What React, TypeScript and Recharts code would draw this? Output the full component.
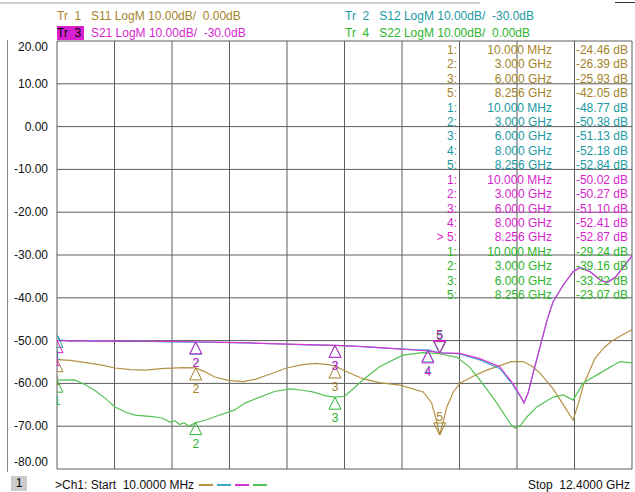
import React from 'react';
import { ComposedChart, Line, Scatter, XAxis, YAxis, CartesianGrid } from 'recharts';

// sweep / scale (active trace Tr 3 owns the left axis)
const startGHz = 0.01;
const stopGHz = 12.4;
const activeRef = -30;
const yTicks = [20, 10, 0, -10, -20, -30, -40, -50, -60, -70, -80];

// traces, [GHz, dB] as measured (before the reference offset)
const s11Trace: [number, number][] = [
  [0.01, -24.46], [0.3, -24.6], [0.67, -25.2], [1.0, -25.8], [1.26, -26.4], [1.6, -26.8],
  [1.9, -26.9], [2.33, -26.5], [2.76, -26.3], [3.0, -26.39], [3.2, -27.3], [3.41, -28.5],
  [3.7, -29.3], [4.02, -29.6], [4.3, -29.0], [4.53, -28.1], [4.96, -26.4], [5.3, -25.6],
  [5.6, -25.3], [5.85, -25.6], [6.0, -25.93], [6.3, -27.5], [6.6, -28.9], [6.96, -29.8],
  [7.4, -30.4], [7.9, -32.0], [8.08, -34.5], [8.17, -38.0], [8.256, -42.05], [8.33, -39.0],
  [8.41, -35.5], [8.55, -32.0], [8.7, -29.9], [9.0, -28.2], [9.27, -26.9], [9.8, -24.9],
  [10.05, -24.9], [10.25, -26.0], [10.42, -27.6], [10.7, -31.3], [10.95, -35.5], [11.13, -38.6],
  [11.25, -34.5], [11.35, -30.5], [11.6, -24.2], [11.8, -21.6], [11.95, -20.2], [12.14, -19.0],
  [12.4, -17.4],
];
const s12Trace: [number, number][] = [
  [0.01, -48.77], [0.08, -49.8], [0.3, -50.1], [0.8, -50.0], [1.3, -50.2], [1.8, -50.1],
  [2.4, -50.3], [3.0, -50.38], [3.6, -50.4], [4.2, -50.6], [4.8, -50.8], [5.4, -51.0],
  [6.0, -51.13], [6.6, -51.4], [7.2, -51.8], [7.7, -52.1], [8.0, -52.18], [8.256, -52.84],
  [8.69, -53.1], [9.12, -54.5], [9.55, -56.5], [9.83, -60.3], [10.02, -63.5], [10.07, -64.5],
  [10.16, -62.3], [10.27, -57.6], [10.42, -51.4], [10.57, -45.2], [10.7, -40.9], [10.92, -37.0],
  [11.13, -33.9], [11.28, -32.9], [11.5, -33.9], [11.71, -35.8], [11.86, -36.5], [12.05, -35.1],
  [12.27, -32.0], [12.4, -30.2],
];
const s21Trace: [number, number][] = [
  [0.01, -50.02], [0.3, -50.05], [0.8, -50.1], [1.3, -50.1], [1.8, -50.15], [2.4, -50.2],
  [3.0, -50.27], [3.6, -50.4], [4.2, -50.55], [4.8, -50.75], [5.4, -50.95], [6.0, -51.1],
  [6.6, -51.4], [7.2, -51.8], [7.7, -52.2], [8.0, -52.41], [8.256, -52.87], [8.69, -53.0],
  [9.12, -54.2], [9.55, -56.1], [9.83, -60.0], [10.02, -63.4], [10.07, -64.6], [10.16, -62.3],
  [10.27, -57.6], [10.42, -51.4], [10.57, -45.2], [10.7, -40.9], [10.92, -37.0], [11.13, -33.9],
  [11.28, -32.9], [11.5, -33.9], [11.71, -35.8], [11.86, -36.5], [12.05, -35.1], [12.27, -32.0],
  [12.4, -30.2],
];
const s22Trace: [number, number][] = [
  [0.01, -29.24], [0.39, -29.2], [0.6, -30.2], [0.82, -31.6], [1.05, -33.5], [1.26, -35.5],
  [1.5, -36.8], [1.69, -37.4], [2.12, -37.8], [2.3, -38.2], [2.45, -39.1], [2.55, -38.7],
  [2.65, -39.6], [2.75, -39.2], [2.85, -40.0], [3.0, -39.16], [3.2, -38.6], [3.41, -37.8],
  [3.84, -36.2], [4.06, -34.6], [4.38, -33.2], [4.7, -31.9], [5.03, -31.3], [5.3, -31.6],
  [5.52, -32.0], [5.8, -32.9], [6.0, -33.22], [6.21, -33.0], [6.4, -31.2], [6.6, -29.2],
  [6.96, -26.1], [7.46, -23.4], [7.89, -22.8], [8.256, -23.07], [8.63, -23.9], [8.9, -26.2],
  [9.12, -29.2], [9.3, -31.8], [9.49, -34.6], [9.77, -39.3], [9.88, -40.5], [10.0, -39.8],
  [10.13, -37.9], [10.35, -35.5], [10.7, -33.2], [10.92, -32.7], [11.13, -33.9], [11.35, -29.9],
  [11.71, -27.6], [12.14, -24.9], [12.4, -25.2],
];

// markers: id, GHz, dB
const s11Markers = [
  { id: 1, f: 0.01, v: -24.46 }, { id: 2, f: 3.0, v: -26.39 },
  { id: 3, f: 6.0, v: -25.93 }, { id: 5, f: 8.256, v: -42.05 },
];
const s12Markers = [
  { id: 1, f: 0.01, v: -48.77 }, { id: 2, f: 3.0, v: -50.38 }, { id: 3, f: 6.0, v: -51.13 },
  { id: 4, f: 8.0, v: -52.18 }, { id: 5, f: 8.256, v: -52.84 },
];
const s21Markers = [
  { id: 1, f: 0.01, v: -50.02 }, { id: 2, f: 3.0, v: -50.27 }, { id: 3, f: 6.0, v: -51.1 },
  { id: 4, f: 8.0, v: -52.41 }, { id: 5, f: 8.256, v: -52.87 },
];
const s22Markers = [
  { id: 1, f: 0.01, v: -29.24 }, { id: 2, f: 3.0, v: -39.16 },
  { id: 3, f: 6.0, v: -33.22 }, { id: 5, f: 8.256, v: -23.07 },
];

const FONT = 'Arial, "Liberation Sans", sans-serif';

const traces = [
  { tr: 1, param: 'S11', ref: 0, text: '#a3832a', line: '#b39145', data: s11Trace, markers: s11Markers },
  { tr: 2, param: 'S12', ref: -30, text: '#1a9aa2', line: '#3aa6c8', data: s12Trace, markers: s12Markers },
  { tr: 3, param: 'S21', ref: -30, text: '#d81fd0', line: '#d636d2', data: s21Trace, markers: s21Markers },
  { tr: 4, param: 'S22', ref: 0, text: '#2cb42c', line: '#55c255', data: s22Trace, markers: s22Markers },
];
const activeTr = 3;
const activeMarker = 5;
const drawOrder = [1, 4, 2, 3];

const fmtRef = (r: number) => (r === 0 ? '0.00dB' : `${r.toFixed(1)}dB`);
const fmtFreq = (f: number) => (f < 1 ? `${(f * 1000).toFixed(3)} MHz` : `${f.toFixed(3)} GHz`);
const gridTicks = Array.from({ length: 11 }, (_, k) => startGHz + (k * (stopGHz - startGHz)) / 10);

const MarkerShape = (props: any) => {
  const { cx, cy, payload } = props;
  const c = payload.color;
  if (payload.down) {
    return (
      <g>
        <polygon points={`${cx - 6},${cy - 12} ${cx + 6},${cy - 12} ${cx},${cy}`} fill="none" stroke={c} strokeWidth={1} />
        {payload.active && <line x1={cx - 6} x2={cx + 6} y1={cy - 12} y2={cy - 12} stroke={c} strokeWidth={2} />}
        <text x={cx} y={cy - 14} textAnchor="middle" fontSize={12} fontFamily={FONT} fill={c}>{payload.id}</text>
      </g>
    );
  }
  return (
    <g>
      <polygon points={`${cx},${cy} ${cx - 6},${cy + 12} ${cx + 6},${cy + 12}`} fill="none" stroke={c} strokeWidth={1} />
      <text x={cx} y={cy + 25} textAnchor="middle" fontSize={12} fontFamily={FONT} fill={c}>{payload.id}</text>
    </g>
  );
};

const RefArrow = (props: any) => {
  const { cx, cy, payload } = props;
  const d = payload.side === 'left' ? -1 : 1;
  return (
    <polygon points={`${cx},${cy} ${cx + d * 5},${cy - 5} ${cx + d * 5},${cy + 5}`} fill={payload.color} />
  );
};

const YTick = (props: any) => {
  const { x, y, payload } = props;
  const v = payload.value;
  const dy = v === yTicks[0] ? 10 : v === yTicks[yTicks.length - 1] ? -3 : 4;
  return (
    <text x={x} y={y + dy} textAnchor="end" fontSize={12} fontFamily={FONT} fill="#111">{v.toFixed(2)}</text>
  );
};

// vertical divisions through the x scale, falling back to even splits of the plot
const verticalGen = (p: any) => {
  const sc = p?.xAxis?.scale;
  if (sc && typeof sc === 'function') return gridTicks.map((t) => sc(t));
  if (sc && typeof sc.map === 'function') return gridTicks.map((t) => sc.map(t));
  return gridTicks.map((_, k) => p.offset.left + (p.offset.width * k) / 10);
};

export default function App() {
  const byTr = (n: number) => traces.find((t) => t.tr === n)!;
  const active = byTr(activeTr);
  const series = drawOrder.map((n) => {
    const t = byTr(n);
    const off = activeRef - t.ref;
    return {
      ...t,
      pts: t.data.map(([f, v]) => ({ f, y: v + off })),
      mk: t.markers.map((m) => ({
        f: m.f, y: m.v + off, id: m.id, color: t.text,
        down: m.id === 5, active: t.tr === activeTr && m.id === activeMarker,
      })),
    };
  });
  const refPts = [
    { f: startGHz, y: activeRef, side: 'left', color: active.text },
    { f: stopGHz, y: activeRef, side: 'right', color: active.text },
  ];
  const rows = traces.flatMap((t) =>
    t.markers.map((m) => ({
      color: t.text,
      num: `${t.tr === activeTr && m.id === activeMarker ? '> ' : ''}${m.id}:`,
      freq: fmtFreq(m.f),
      val: `${m.v.toFixed(2)} dB`,
    })),
  );

  const txt: React.CSSProperties = { position: 'absolute', fontFamily: FONT, fontSize: 12, whiteSpace: 'pre', lineHeight: '14px' };

  return (
    <div style={{ position: 'relative', width: 635, height: 492, background: '#fff', overflow: 'hidden' }}>
      <style>{'body{margin:0}'}</style>
      <div style={{ position: 'absolute', left: 0, top: 2, width: 480, height: 2, background: '#cfcfcf' }} />
      <div style={{ position: 'absolute', left: 615, top: 2, width: 20, height: 1, background: '#333' }} />
      <div style={{ position: 'absolute', left: 7, top: 40, width: 1, height: 432, background: '#8a8a8a' }} />

      {[traces[0], traces[2]].map((t, i) => (
        <div key={t.tr} style={{ ...txt, left: 57, top: 9 + i * 17, color: t.text }}>
          <span style={{ background: t.tr === activeTr ? t.text : 'transparent', color: t.tr === activeTr ? '#000' : t.text, padding: '0 3px 0 0' }}>{`Tr  ${t.tr}`}</span>
          {`  ${t.param} LogM 10.00dB/  ${fmtRef(t.ref)}`}
        </div>
      ))}
      {[traces[1], traces[3]].map((t, i) => (
        <div key={t.tr} style={{ ...txt, left: 345, top: 9 + i * 17, color: t.text }}>
          {`Tr  ${t.tr}   ${t.param} LogM 10.00dB/  ${fmtRef(t.ref)}`}
        </div>
      ))}

      <div style={{ position: 'absolute', left: 0, top: 0 }}>
        <ComposedChart width={635} height={492} margin={{ top: 41, right: 3, bottom: 23, left: 7 }}>
          <CartesianGrid stroke="#5c5c5c" strokeWidth={1} verticalCoordinatesGenerator={verticalGen} />
          <XAxis type="number" dataKey="f" domain={[startGHz, stopGHz]} ticks={gridTicks}
            allowDataOverflow height={0} tick={false} tickLine={false} axisLine={false} />
          <YAxis type="number" domain={[-80, 20]} ticks={yTicks} width={50} allowDataOverflow
            tick={<YTick />} tickLine={false} axisLine={false} tickSize={6} tickMargin={3} interval={0} />
          {series.map((s) => (
            <Line key={`l${s.tr}`} data={s.pts} dataKey="y" type="linear" dot={false}
              stroke={s.line} strokeWidth={1.2} isAnimationActive={false} />
          ))}
          {series.map((s) => (
            <Scatter key={`m${s.tr}`} data={s.mk} dataKey="y" shape={<MarkerShape />} isAnimationActive={false} />
          ))}
          <Scatter data={refPts} dataKey="y" shape={<RefArrow />} isAnimationActive={false} />
        </ComposedChart>
      </div>

      {rows.map((r, i) => (
        <React.Fragment key={i}>
          <div style={{ ...txt, right: 635 - 457, top: 43 + i * 14.41, color: r.color }}>{r.num}</div>
          <div style={{ ...txt, right: 635 - 552, top: 43 + i * 14.41, color: r.color }}>{r.freq}</div>
          <div style={{ ...txt, right: 635 - 628, top: 43 + i * 14.41, color: r.color }}>{r.val}</div>
        </React.Fragment>
      ))}

      <div style={{ position: 'absolute', left: 11, top: 476, width: 16, height: 15, background: '#cccccc', fontFamily: FONT, fontSize: 12, textAlign: 'center', lineHeight: '15px' }}>1</div>
      <div style={{ ...txt, left: 55, top: 478, color: '#111' }}>{`>Ch1: Start  ${(startGHz * 1000).toFixed(4)} MHz`}</div>
      {traces.map((t, i) => (
        <div key={t.tr} style={{ position: 'absolute', left: 199 + i * 18, top: 484, width: 14, height: 2, background: t.line }} />
      ))}
      <div style={{ ...txt, right: 5, top: 478, color: '#111' }}>{`Stop  ${stopGHz.toFixed(4)} GHz`}</div>
    </div>
  );
}
